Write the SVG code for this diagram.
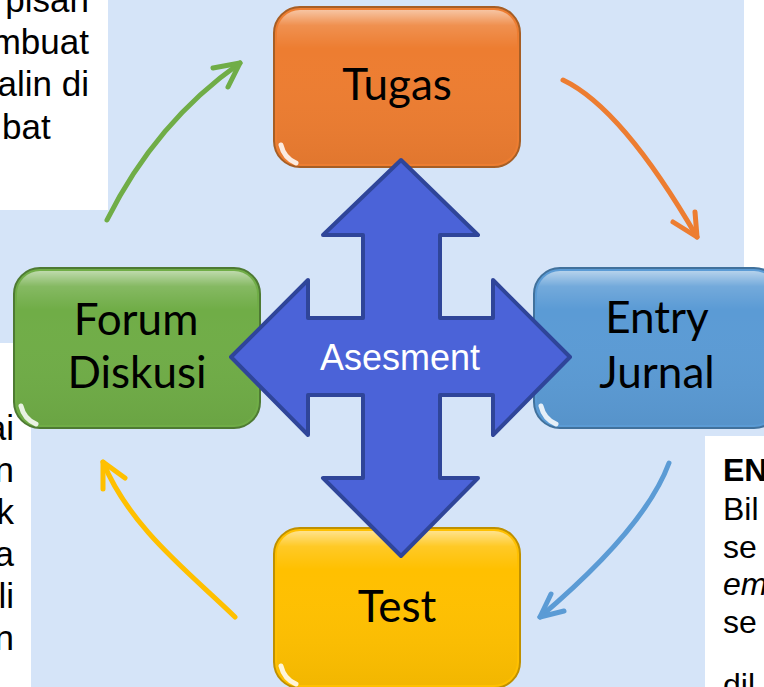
<svg xmlns="http://www.w3.org/2000/svg" width="764" height="687" viewBox="0 0 764 687">
<defs>
<style>
.body{font-family:"Liberation Sans",Arial,sans-serif;font-size:35px;fill:#000}
.lbl{font-family:Lato,"Noto Sans",sans-serif;font-size:44px;fill:#000;text-anchor:middle}
.conn{fill:none;stroke-width:5;stroke-linecap:round;stroke-linejoin:round}
.spot{fill:none;stroke:#fff;stroke-width:5;stroke-linecap:round;opacity:0.85}
</style>
<linearGradient id="gloss" x1="0" y1="0" x2="0" y2="1">
<stop offset="0" stop-color="#fff" stop-opacity="0.55"/>
<stop offset="0.1" stop-color="#fff" stop-opacity="0.15"/>
<stop offset="0.25" stop-color="#fff" stop-opacity="0"/>
<stop offset="1" stop-color="#000" stop-opacity="0.05"/>
</linearGradient>
</defs>
<rect width="764" height="687" fill="#fff"/>
<path d="M108,0 H744 V268 H764 V436 H705 V687 H31 V343 H0 V210 H108 Z" fill="#D5E4F8"/>

<g id="text-topleft" class="body" text-anchor="end">
<text x="89" y="12">pisan</text>
<text x="89" y="54">mbuat</text>
<text x="89" y="96">alin di</text>
<text x="2" y="139" text-anchor="start">bat</text>
</g>
<g id="text-bottomleft" class="body" text-anchor="end">
<text x="14" y="440">ai</text>
<text x="14" y="482">n</text>
<text x="14" y="524">k</text>
<text x="14" y="566">a</text>
<text x="14" y="608">li</text>
<text x="14" y="650">n</text>
</g>
<g id="text-bottomright" class="body" style="font-size:32px">
<text x="723" y="481" font-weight="bold">EN</text>
<text x="723" y="520">Bil</text>
<text x="723" y="558">se</text>
<text x="723" y="595" font-style="italic">em</text>
<text x="723" y="633">se</text>
<text x="723" y="696">dil</text>
</g>

<g id="connectors">
<path class="conn" stroke="#70AD47" d="M107,220 Q156,122 240,63"/>
<polyline class="conn" stroke="#70AD47" points="213,68 240,63 228,87"/>
<path class="conn" stroke="#ED7D31" d="M563,80 Q622,108 697,237"/>
<polyline class="conn" stroke="#ED7D31" points="673,222 697,237 695,212"/>
<path class="conn" stroke="#5B9BD5" d="M669,463 Q645,528 540,617"/>
<polyline class="conn" stroke="#5B9BD5" points="551,594 540,617 564,611"/>
<path class="conn" stroke="#FFC000" d="M235,617 C190,573 130,528 103,462"/>
<polyline class="conn" stroke="#FFC000" points="103,489 103,462 125,478"/>
</g>

<g id="node-tugas">
<rect x="274" y="7" width="246" height="160" rx="26" fill="#ED7D31" stroke="#A65E25" stroke-width="2"/>
<rect x="277" y="10" width="240" height="154" rx="23" fill="url(#gloss)"/>
<path class="spot" d="M281,145 Q284,158 296,163"/>
<text class="lbl" x="397" y="100">Tugas</text>
</g>
<g id="node-forum">
<rect x="14" y="268" width="246" height="160" rx="26" fill="#70AD47" stroke="#4E7A33" stroke-width="2"/>
<rect x="17" y="271" width="240" height="154" rx="23" fill="url(#gloss)"/>
<path class="spot" d="M21,406 Q24,419 36,424"/>
<text class="lbl" x="136" y="335">Forum</text>
<text class="lbl" x="137" y="388">Diskusi</text>
</g>
<g id="node-entry">
<rect x="534" y="268" width="246" height="160" rx="26" fill="#5B9BD5" stroke="#41719C" stroke-width="2"/>
<rect x="537" y="271" width="240" height="154" rx="23" fill="url(#gloss)"/>
<path class="spot" d="M541,406 Q544,419 556,424"/>
<text class="lbl" x="657" y="333">Entry</text>
<text class="lbl" x="657" y="388">Jurnal</text>
</g>
<g id="node-test">
<rect x="274" y="528" width="246" height="160" rx="26" fill="#FFC000" stroke="#BF9000" stroke-width="2"/>
<rect x="277" y="531" width="240" height="154" rx="23" fill="url(#gloss)"/>
<path class="spot" d="M281,666 Q284,679 296,684"/>
<text class="lbl" x="397" y="622">Test</text>
</g>

<g id="node-asesment">
<polygon points="401,160 478,235 440,235 440,318 493,318 493,280 570,357 493,435 493,395 440,395 440,478 478,478 401,556 323,478 363,478 363,395 308,395 308,435 231,357 308,280 308,318 363,318 363,235 323,235" fill="#4B63D8" stroke="#2F4599" stroke-width="4" stroke-linejoin="round"/>
<text x="400" y="370" font-family="Liberation Sans, Arial, sans-serif" font-size="36" fill="#fff" text-anchor="middle">Asesment</text>
</g>
</svg>
